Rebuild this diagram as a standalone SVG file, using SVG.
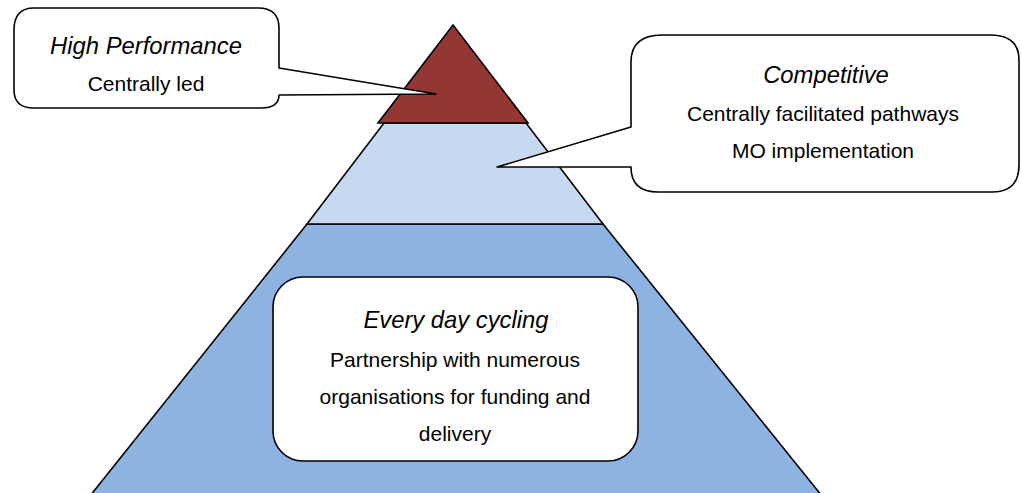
<svg xmlns="http://www.w3.org/2000/svg" width="1022" height="493" viewBox="0 0 1022 493">
  <style>
    .tier { stroke: #000; stroke-width: 1.6; stroke-linejoin: miter; }
    .box { fill: #fff; stroke: #000; stroke-width: 1.6; stroke-linejoin: round; }
    .head { font-family: "Liberation Sans", Arial, sans-serif; font-style: italic; font-size: 23.8px; fill: #000; text-anchor: middle; }
    .body { font-family: "Liberation Sans", Arial, sans-serif; font-size: 21px; fill: #000; text-anchor: middle; }
  </style>
  <rect width="1022" height="493" fill="#fff"/>

  <!-- pyramid tiers, bottom to top -->
  <g id="tier-base">
    <polygon class="tier" fill="#8DB3E2" points="307,224 603,224 826,501 86,501"/>
  </g>
  <g id="tier-middle">
    <polygon class="tier" fill="#C6D9F1" points="384,123 526,123 603,224 307,224"/>
  </g>
  <g id="tier-top">
    <polygon class="tier" fill="#943634" points="453,25 528,123 378,123"/>
  </g>

  <!-- callout pointers are part of each callout outline -->
  <g id="connectors"/>

  <g id="callout-high-performance">
    <path class="box" d="M 34,8 L 258,8 Q 279,8 279,28 L 279,68 L 436,94 L 279,95 Q 279,108 261,108 L 34,108 Q 14,108 14,90 L 14,30 Q 14,8 34,8 Z"/>
    <text class="head" x="146" y="54">High Performance</text>
    <text class="body" x="146" y="91">Centrally led</text>
  </g>

  <g id="callout-competitive">
    <path class="box" d="M 662,35 L 990,35 Q 1019,35 1019,60 L 1019,165 Q 1019,192 992,192 L 658,192 Q 631,192 631,167 L 497,167 L 631,127 L 631,62 Q 631,35 662,35 Z"/>
    <text class="head" x="826" y="83">Competitive</text>
    <text class="body" x="823" y="121">Centrally facilitated pathways</text>
    <text class="body" x="823" y="158">MO implementation</text>
  </g>

  <g id="box-everyday">
    <rect class="box" x="273" y="277" width="365" height="184" rx="30" ry="30"/>
    <text class="head" x="456" y="328">Every day cycling</text>
    <text class="body" x="455" y="367">Partnership with numerous</text>
    <text class="body" x="455" y="404">organisations for funding and</text>
    <text class="body" x="455" y="441">delivery</text>
  </g>
</svg>
